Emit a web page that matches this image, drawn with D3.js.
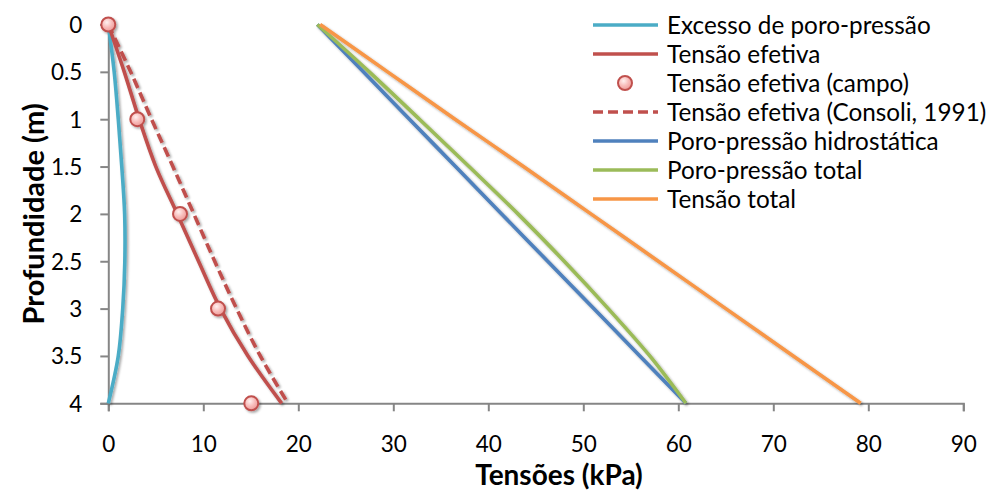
<!DOCTYPE html>
<html>
<head>
<meta charset="utf-8">
<script src="https://cdn.jsdelivr.net/npm/d3@7"></script>
<style>
  html, body { margin: 0; padding: 0; background: #fff; }
  svg { display: block; }
  text { font-family: Lato, "Open Sans", "Liberation Sans", sans-serif; fill: #000; }
</style>
</head>
<body>
<svg id="chart" width="1000" height="491"></svg>
<script>
// Depths (m) at which every profile is sampled
const depths = [0, 0.5, 1, 1.5, 2, 2.5, 3, 3.5, 4];

// Stresses (kPa) at each depth
const excessPore   = [0, 0.62, 1.05, 1.42, 1.72, 1.74, 1.52, 1.05, 0];
const effective    = [0, 1.68, 3.25, 5.0, 7.26, 9.5, 11.8, 14.7, 18.25];
const consoli1991  = [0, 2.35, 4.55, 6.8, 9.0, 11.2, 13.5, 16.0, 18.9];
const hydrostatic  = [22, 26.85, 31.7, 36.55, 41.4, 46.25, 51.1, 55.95, 60.8];
const totalPore    = [22, 27.47, 32.75, 37.97, 43.12, 47.99, 52.62, 57.0, 60.8];
const totalStress  = [22.3, 29.4, 36.5, 43.7, 50.8, 57.9, 65.0, 72.1, 79.2];

// Field measurements of effective stress
const fieldDepth  = [0, 1, 2, 3, 4];
const fieldStress = [0, 3.05, 7.55, 11.55, 15.05];

// Axis ticks
const xTicks = [0, 10, 20, 30, 40, 50, 60, 70, 80, 90];
const yTicks = [0, 0.5, 1, 1.5, 2, 2.5, 3, 3.5, 4];

const legendLabels = [
  "Excesso de poro-pressão",
  "Tensão efetiva",
  "Tensão efetiva (campo)",
  "Tensão efetiva (Consoli, 1991)",
  "Poro-pressão hidrostática",
  "Poro-pressão total",
  "Tensão total"
];

const colors = {
  cyan: "#4BACC6", red: "#C0504D", blue: "#4F81BD",
  green: "#9BBB59", orange: "#F79646", axis: "#868686"
};

const svg = d3.select("#chart");

// Soft shadow under series lines, and the shaded marker fill
const defs = svg.append("defs");
const shadow = defs.append("filter").attr("id", "lineShadow")
  .attr("x", "-20%").attr("y", "-20%").attr("width", "140%").attr("height", "140%");
shadow.append("feDropShadow")
  .attr("dx", 1.6).attr("dy", 1.6).attr("stdDeviation", 1.3)
  .attr("flood-color", "#000").attr("flood-opacity", 0.35);

const grad = defs.append("radialGradient").attr("id", "markerFill")
  .attr("cx", "40%").attr("cy", "35%").attr("r", "65%");
grad.append("stop").attr("offset", "0%").attr("stop-color", "#fff1f0");
grad.append("stop").attr("offset", "55%").attr("stop-color", "#f8bcba");
grad.append("stop").attr("offset", "100%").attr("stop-color", "#ee9c9a");

const x = d3.scaleLinear().domain([0, 90]).range([108.3, 963.3]);
const y = d3.scaleLinear().domain([0, 4]).range([24.5, 403.3]);

// Axes
const xAxis = svg.append("g")
  .attr("transform", `translate(0,${y(4)})`)
  .call(d3.axisBottom(x).tickValues(xTicks).tickSize(8).tickFormat(d3.format("d")));
const yAxis = svg.append("g")
  .attr("transform", `translate(${x(0)},0)`)
  .call(d3.axisLeft(y).tickValues(yTicks).tickSize(8).tickPadding(18).tickFormat(d => String(d)));

[xAxis, yAxis].forEach(g => {
  g.select(".domain").attr("stroke", colors.axis).attr("stroke-width", 2);
  g.selectAll(".tick line").attr("stroke", colors.axis).attr("stroke-width", 2);
  g.selectAll(".tick text").attr("font-size", 22.5).attr("fill", "#000")
    .style("font-family", 'Lato, "Open Sans", sans-serif');
});
// x labels sit on a baseline well below the axis line
xAxis.selectAll(".tick text").attr("y", 49).attr("dy", 0);
yAxis.selectAll(".tick text").attr("dy", "0.35em");

// Axis titles
svg.append("text")
  .attr("x", 559).attr("y", 484.5)
  .attr("text-anchor", "middle")
  .attr("font-size", 28).attr("font-weight", "bold")
  .text("Tensões (kPa)");
svg.append("text")
  .attr("transform", `translate(44,${y(2)}) rotate(-90)`)
  .attr("text-anchor", "middle")
  .attr("font-size", 29).attr("font-weight", "bold")
  .text("Profundidade (m)");

// Series
const line = d3.line()
  .x(d => x(d[0]))
  .y(d => y(d[1]))
  .curve(d3.curveCatmullRom.alpha(0.5));

const series = [
  { values: excessPore, color: colors.cyan, dash: null },
  { values: effective, color: colors.red, dash: null },
  { values: consoli1991, color: colors.red, dash: "10,5" },
  { values: hydrostatic, color: colors.blue, dash: null },
  { values: totalPore, color: colors.green, dash: null },
  { values: totalStress, color: colors.orange, dash: null }
];

const plot = svg.append("g").attr("filter", "url(#lineShadow)");
series.forEach(s => {
  plot.append("path")
    .datum(depths.map((d, i) => [s.values[i], d]))
    .attr("d", line)
    .attr("fill", "none")
    .attr("stroke", s.color)
    .attr("stroke-width", 3.6)
    .attr("stroke-dasharray", s.dash)
    .attr("stroke-linejoin", "round");
});

plot.selectAll("circle.field")
  .data(fieldDepth.map((d, i) => [fieldStress[i], d]))
  .join("circle")
  .attr("class", "field")
  .attr("cx", d => x(d[0]))
  .attr("cy", d => y(d[1]))
  .attr("r", 7)
  .attr("fill", "url(#markerFill)")
  .attr("stroke", colors.red)
  .attr("stroke-width", 2);

// Legend
const legendItems = [
  { type: "line", color: colors.cyan },
  { type: "line", color: colors.red },
  { type: "marker", color: colors.red },
  { type: "line", color: colors.red, dash: "10,5" },
  { type: "line", color: colors.blue },
  { type: "line", color: colors.green },
  { type: "line", color: colors.orange }
];

const legend = svg.append("g");
legendItems.forEach((item, i) => {
  const ly = 25 + i * 29;
  if (item.type === "line") {
    legend.append("line")
      .attr("x1", 593).attr("x2", 658).attr("y1", ly).attr("y2", ly)
      .attr("stroke", item.color).attr("stroke-width", 3.6)
      .attr("stroke-dasharray", item.dash || null);
  } else {
    legend.append("circle")
      .attr("cx", 625).attr("cy", ly).attr("r", 7)
      .attr("fill", "url(#markerFill)")
      .attr("stroke", item.color).attr("stroke-width", 2);
  }
  legend.append("text")
    .attr("x", 667).attr("y", ly).attr("dy", "0.35em")
    .attr("font-size", 24.3)
    .text(legendLabels[i]);
});
</script>
</body>
</html>
